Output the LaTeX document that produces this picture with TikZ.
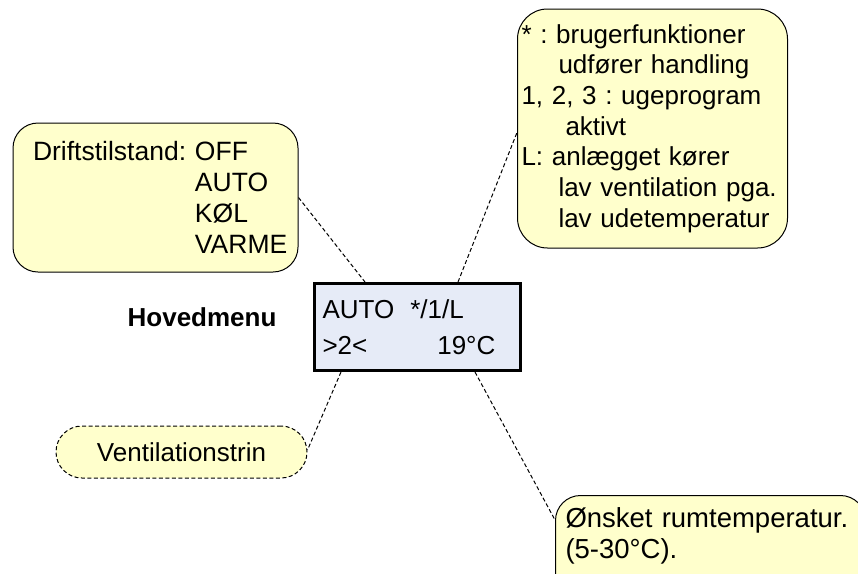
\documentclass[tikz,border=0pt]{standalone}
\usepackage{fontspec}
\setmainfont{Liberation Sans}
\usepackage{tikz}
\frenchspacing
\definecolor{notefill}{HTML}{FFFFCC}
\definecolor{lcdfill}{HTML}{E6EBF7}
\tikzset{
  note/.style={draw=black, line width=1pt, fill=notefill, rounded corners=25pt, align=left,
    font=\fontsize{26}{31}\selectfont},
  lcd/.style={draw=black, line width=3pt, fill=lcdfill, align=left,
    font=\fontsize{26}{36}\selectfont},
  leader/.style={draw=black, dash pattern=on 4pt off 2.5pt, line width=1pt},
}

\begin{document}
\begin{tikzpicture}[x=1pt,y=-1pt]
\clip (0,0) rectangle (858,573);
\node[note, text width=245pt, inner xsep=20pt, minimum height=149pt,
  font=\fontsize{26.5}{31}\selectfont] (drift) at (155.5,197.5)
  {Driftstilstand: OFF\\\phantom{Driftstilstand: }AUTO\\\phantom{Driftstilstand: }KØL\\\phantom{Driftstilstand: }VARME};
\node[note, text width=262pt, inner xsep=4pt, minimum height=239pt, rounded corners=30pt,
  font=\fontsize{26}{30.7}\selectfont] (bruger) at (652.5,128.5)
  {* : brugerfunktioner\\\hspace*{37pt}udfører handling\\1, 2, 3 : ugeprogram\\\hspace*{44pt}aktivt\\
   L: anlægget kører\\\hspace*{37pt}lav ventilation pga.\\\hspace*{37pt}lav udetemperatur};
\node[lcd, text width=190pt, inner xsep=8pt, minimum height=87pt] (lcd) at (417.5,327)
  {AUTO\hspace{16pt}*/1/L\\>2<\hspace{70pt}19°C};
\node[anchor=base east, font=\bfseries\fontsize{26}{31}\selectfont] (hoved) at (280,326) {Hovedmenu};
\node[note, dash pattern=on 4pt off 2.5pt, rounded corners=26pt, minimum width=251pt,
  minimum height=52pt] (vent) at (181.5,452) {Ventilationstrin};
\node[note, anchor=north west, text width=290pt, inner xsep=10pt, inner ysep=12pt, text depth=80pt,
  font=\fontsize{27.5}{31}\selectfont] (temp) at (555,495)
  {Ønsket rumtemperatur.\\(5-30°C).};
% stiplede forbindelser
\draw[leader] (drift.east) -- ([xshift=52pt]lcd.north west);
\draw[leader] ([xshift=145pt]lcd.north west) -- ([yshift=-4pt]bruger.west);
\draw[leader] ([xshift=28pt]lcd.south west) -- ([yshift=2pt]vent.east);
\draw[leader] ([xshift=162pt]lcd.south west) -- ([yshift=-25pt]temp.north west);
\end{tikzpicture}
\end{document}
